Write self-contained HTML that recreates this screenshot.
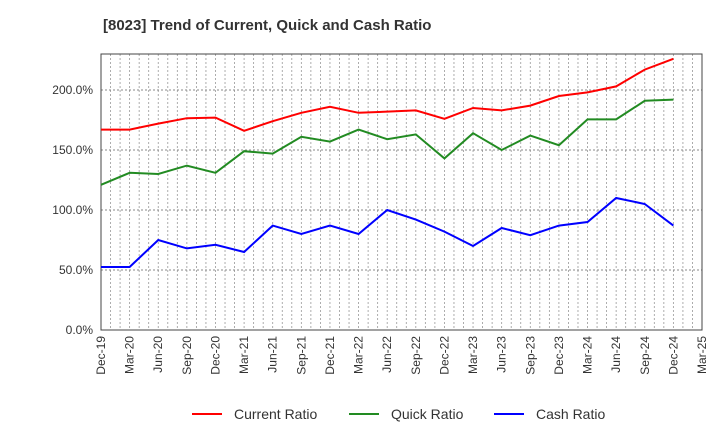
<!DOCTYPE html>
<html><head><meta charset="utf-8"><style>
body{margin:0;background:#fff;font-family:"Liberation Sans",sans-serif}
</style></head><body>
<svg id="c" width="720" height="440" xmlns="http://www.w3.org/2000/svg">
<text x="103" y="30" font-size="15" font-weight="bold" fill="#333">[8023]  Trend of Current, Quick and Cash Ratio</text>
<g id="grid"></g><g id="axes"></g><g id="series"></g>
<g>
<line x1="192" y1="414" x2="222" y2="414" stroke="#f00" stroke-width="2"/><text x="234" y="419" font-size="14" fill="#333">Current Ratio</text>
<line x1="349" y1="414" x2="379" y2="414" stroke="#228b22" stroke-width="2"/><text x="391" y="419" font-size="14" fill="#333">Quick Ratio</text>
<line x1="494" y1="414" x2="524" y2="414" stroke="#00f" stroke-width="2"/><text x="536" y="419" font-size="14" fill="#333">Cash Ratio</text>
</g>
</svg>
<script>
const xLabels=["Dec-19","Mar-20","Jun-20","Sep-20","Dec-20","Mar-21","Jun-21","Sep-21","Dec-21","Mar-22","Jun-22","Sep-22","Dec-22","Mar-23","Jun-23","Sep-23","Dec-23","Mar-24","Jun-24","Sep-24","Dec-24","Mar-25"];
const yTicks=[0,50,100,150,200];
const current=[167,167,172,176.5,177,166,174,181,186,181,182,183,176,185,183,187,195,198,203,217,226];
const quick=[121,131,130,137,131,149,147,161,157,167,159,163,143,164,150,162,154,175.5,175.5,191,192];
const cash=[52.5,52.5,75,68,71,65,87,80,87,80,100,92,82,70,85,79,87,90,110,105,87];
const L=101,R=702,T=54,B=330,YMAX=230;
const ns="http://www.w3.org/2000/svg";
const xs=i=>L+i*(R-L)/(xLabels.length-1);
const ys=v=>B-v/YMAX*(B-T);
function mk(p,t,a){const e=document.createElementNS(ns,t);for(const k in a)e.setAttribute(k,a[k]);document.getElementById(p).appendChild(e);return e;}
for(let m=1;m<(xLabels.length-1)*3;m++){const x=L+m*(R-L)/((xLabels.length-1)*3);
const g=mk('grid','line',{x1:x,x2:x,y1:T,y2:B,stroke:'#999','stroke-dasharray':'2,2','stroke-width':0.8});
}
yTicks.forEach(v=>{const y=ys(v);
if(v>0){const g=mk('grid','line',{x1:L,x2:R,y1:y,y2:y,stroke:'#888','stroke-dasharray':'2,2'});}
const t=mk('axes','text',{x:L-8,y:y+4,'text-anchor':'end','font-size':12,fill:'#333'});t.textContent=v.toFixed(1)+'%';
});
const fr=mk('axes','rect',{x:L,y:T,width:R-L,height:B-T,fill:'none',stroke:'#444'});

xLabels.forEach((s,i)=>{const x=xs(i);
const t=mk('axes','text',{x:x+4,y:B+6,'text-anchor':'end','font-size':12,fill:'#333',transform:`rotate(-90 ${x+4} ${B+6})`});t.textContent=s;
});
[[current,'#f00','current-ratio-line'],[quick,'#228b22','quick-ratio-line'],[cash,'#00f','cash-ratio-line']].forEach(([d,c,n])=>{
const p=mk('series','polyline',{points:d.map((v,i)=>xs(i)+','+ys(v)).join(' '),fill:'none',stroke:c,'stroke-width':2});
});
</script>
</body></html>
